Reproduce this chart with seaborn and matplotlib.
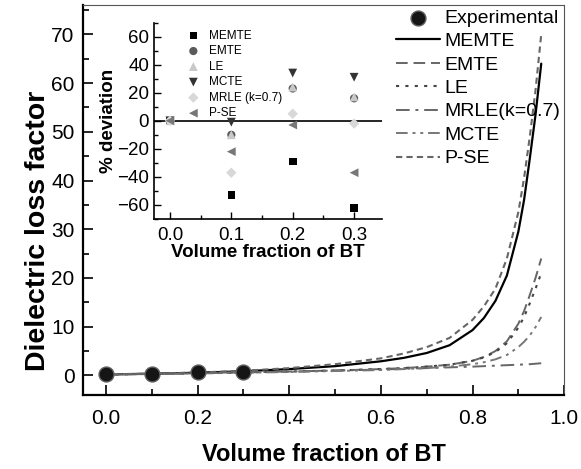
import numpy as np
import pandas as pd
import seaborn as sns
import matplotlib.pyplot as plt
from matplotlib.ticker import MultipleLocator

sns.set_style("ticks")
plt.rcParams['font.family'] = ['Liberation Sans', 'DejaVu Sans']
plt.rcParams.update({'text.color': 'black', 'axes.labelcolor': 'black',
                     'xtick.color': 'black', 'ytick.color': 'black',
                     'axes.edgecolor': 'black'})

# Main plot data
phi = [0.0, 0.1, 0.2, 0.3, 0.4, 0.5, 0.6, 0.65, 0.7, 0.75, 0.8, 0.825, 0.85, 0.875, 0.9, 0.9125, 0.925, 0.9375, 0.95]
memte = [0.2, 0.35, 0.55, 0.85, 1.3, 1.9, 2.9, 3.6, 4.6, 6.2, 9.3, 11.8, 15.3, 20.5, 29.5, 36.0, 44.5, 53.5, 64.0]
emte = [0.2, 0.3, 0.45, 0.6, 0.8, 1.0, 1.3, 1.5, 1.8, 2.2, 3.0, 3.8, 5.0, 7.0, 10.6, 13.2, 16.5, 20.0, 24.0]
le = [0.2, 0.3, 0.45, 0.6, 0.8, 1.0, 1.3, 1.5, 1.8, 2.2, 3.0, 3.7, 4.8, 6.6, 9.8, 12.0, 14.8, 17.8, 21.0]
mrle = [0.2, 0.35, 0.5, 0.65, 0.8, 1.0, 1.2, 1.35, 1.5, 1.65, 1.8, 1.9, 2.0, 2.1, 2.2, 2.25, 2.3, 2.4, 2.5]
mcte = [0.2, 0.28, 0.4, 0.55, 0.7, 0.9, 1.1, 1.3, 1.5, 1.8, 2.3, 2.7, 3.3, 4.2, 5.8, 6.9, 8.2, 9.9, 12.0]
pse = [0.2, 0.35, 0.6, 0.95, 1.5, 2.3, 3.5, 4.5, 5.8, 7.7, 11.4, 14.2, 17.8, 24.0, 33.5, 40.5, 49.0, 58.5, 70.0]

exp_phi = [0.0, 0.1, 0.2, 0.3]
exp_val = [0.2, 0.3, 0.6, 0.8]

# Inset: % deviation
dev_phi = [0.0, 0.1, 0.2, 0.3]
dev_memte = [0, -53, -29, -62]
dev_emte = [0, -10, 23, 16]
dev_le = [0, -10, 24, 17]
dev_mcte = [0, -1, 34, 31]
dev_mrle = [0, -37, 5, -2]
dev_pse = [0, -22, -3, -37]

fig = plt.figure(figsize=(5.81, 4.69), dpi=100)
ax = fig.add_axes([0.143, 0.158, 0.828, 0.831])

sns.scatterplot(x=exp_phi, y=exp_val, ax=ax, marker='o', s=115, color='#151515',
                edgecolor='#606060', linewidth=1, label='Experimental', zorder=5)
lines = [
    (memte, 'MEMTE', 'black', '-', 1.6),
    (emte, 'EMTE', '#666666', (0, (6, 3)), 1.4),
    (le, 'LE', '#444444', (0, (1.5, 3)), 1.5),
    (mrle, 'MRLE(k=0.7)', '#666666', (0, (7, 3, 1.5, 3)), 1.4),
    (mcte, 'MCTE', '#777777', (0, (6, 2.5, 1.5, 2.5, 1.5, 2.5)), 1.4),
    (pse, 'P-SE', '#666666', (0, (3, 2)), 1.5),
]
for vals, name, col, ls, lw in lines:
    sns.lineplot(x=phi, y=vals, ax=ax, color=col, linestyle=ls, linewidth=lw, label=name)

ax.set_xlim(-0.05, 1.0)
ax.set_ylim(-4, 76)
ax.xaxis.set_major_locator(MultipleLocator(0.2))
ax.xaxis.set_minor_locator(MultipleLocator(0.1))
ax.yaxis.set_major_locator(MultipleLocator(10))
ax.yaxis.set_minor_locator(MultipleLocator(5))
ax.set_xticks([0.0, 0.2, 0.4, 0.6, 0.8, 1.0])
ax.set_xticklabels(['0.0', '0.2', '0.4', '0.6', '0.8', '1.0'])
ax.tick_params(which='both', direction='in', top=False, right=False, labelsize=15)
ax.tick_params(axis='x', pad=10)
ax.tick_params(axis='y', pad=6)
ax.tick_params(which='major', length=7, width=1.2)
ax.tick_params(which='minor', length=4, width=1.2)
ax.spines['left'].set_linewidth(1.6)
ax.spines['bottom'].set_linewidth(1.6)
ax.spines['top'].set_linewidth(0.8)
ax.spines['right'].set_linewidth(0.8)
ax.spines['top'].set_color('#555555')
ax.spines['right'].set_color('#555555')
ax.set_xlabel('Volume fraction of BT', fontsize=17, fontweight='bold', labelpad=11)
ax.set_ylabel('Dielectric loss factor', fontsize=20.5, fontweight='bold')
ax.yaxis.set_label_coords(-0.066, 0.42)
ax.legend(loc='upper right', frameon=False, fontsize=14, handlelength=2.3,
          handletextpad=0.2, labelspacing=0.3, borderaxespad=0.1, borderpad=0.1)

# Inset
axi = fig.add_axes([0.265, 0.533, 0.392, 0.419])
axi.patch.set_alpha(0)
axi.axhline(0, color='black', linewidth=1.2, zorder=1)
markers = [
    (dev_memte, 'MEMTE', 's', 'black', 30),
    (dev_emte, 'EMTE', 'o', '#5a5a5a', 35),
    (dev_le, 'LE', '^', '#c8c8c8', 40),
    (dev_mcte, 'MCTE', 'v', '#333333', 40),
    (dev_mrle, 'MRLE (k=0.7)', 'D', '#d8d8d8', 28),
    (dev_pse, 'P-SE', '<', '#777777', 40),
]
for vals, name, mk, col, sz in markers:
    sns.scatterplot(x=dev_phi, y=vals, ax=axi, marker=mk, color=col, s=sz,
                    edgecolor='none', label=name, zorder=3)
axi.set_xlim(-0.026, 0.345)
axi.set_ylim(-70, 70)
axi.xaxis.set_major_locator(MultipleLocator(0.1))
axi.xaxis.set_minor_locator(MultipleLocator(0.05))
axi.yaxis.set_major_locator(MultipleLocator(20))
axi.yaxis.set_minor_locator(MultipleLocator(10))
axi.set_xticks([0.0, 0.1, 0.2, 0.3])
axi.set_xticklabels(['0.0', '0.1', '0.2', '0.3'])
axi.tick_params(which='both', direction='in', labelsize=13.5, width=1)
axi.tick_params(axis='x', pad=6)
axi.tick_params(which='major', length=5)
axi.tick_params(which='minor', length=3)
for s in ['top', 'right']:
    axi.spines[s].set_visible(False)
axi.spines['left'].set_linewidth(1.2)
axi.spines['bottom'].set_linewidth(1.2)
axi.set_xlabel('Volume fraction of BT', fontsize=13.5, fontweight='bold', labelpad=0)
axi.set_ylabel('% deviation', fontsize=13.5, fontweight='bold', labelpad=0)
axi.legend(loc='upper left', frameon=False, fontsize=8.5, handletextpad=0.3,
           labelspacing=0.3, borderaxespad=0.2, bbox_to_anchor=(0.09, 1.0))

fig.savefig('out.png', dpi=100)
